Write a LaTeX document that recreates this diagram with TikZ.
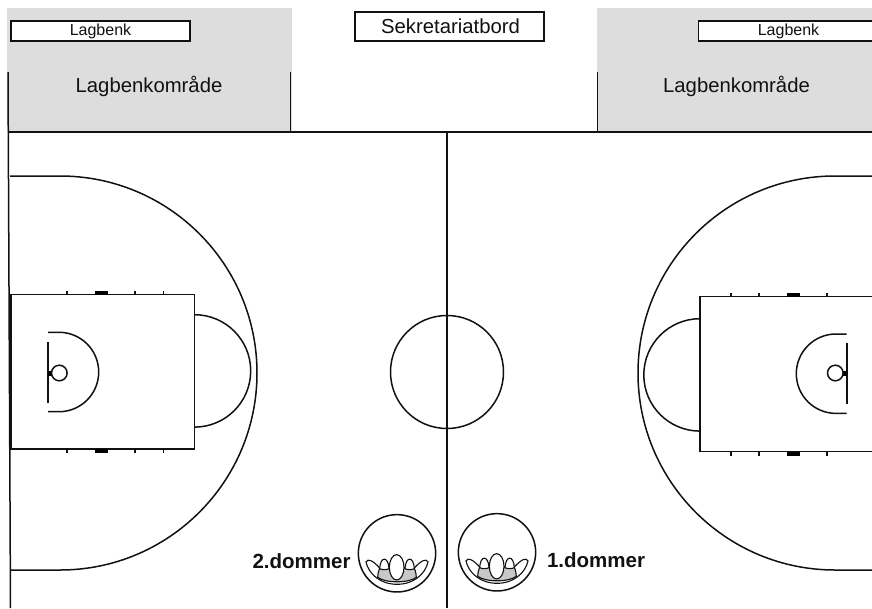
\documentclass[tikz,border=0pt]{standalone}
\usepackage{fontspec}
\setmainfont{Liberation Sans}
\definecolor{zone}{HTML}{DDDDDD}
\definecolor{body}{HTML}{C8C8C8}
\definecolor{ink}{HTML}{111111}
\tikzset{
  ln/.style={draw=ink,line width=1.5pt},
  thick line/.style={draw=ink,line width=1.7pt},
  fig line/.style={draw=ink,line width=1.1pt},
  benchbox/.style={draw=ink,line width=1.5pt,fill=white,inner sep=0pt},
  benchtext/.style={font=\fontsize{16}{16}\selectfont,text=ink,inner sep=0pt},
  zonetext/.style={font=\fontsize{20.3}{20.3}\selectfont,text=ink,inner sep=0pt},
  reftext/.style={font=\fontsize{20.5}{20.5}\bfseries\selectfont,text=ink,inner sep=0pt},
  mark block/.style={fill=black,draw=none}
}
\newcommand{\refereefig}[2]{%
  \begin{scope}[shift={(#1,#2)},x=0.3333pt,y=-0.3333pt]
    \draw[ln,fill=white] (0,0) circle[radius=116];
    \draw[fig line,fill=white]
      (-93,26) .. controls (-88,14) and (-72,22) .. (-52,44)
      -- (52,44)
      .. controls (72,22) and (88,14) .. (93,26)
      .. controls (85,62) and (50,93) .. (0,93)
      .. controls (-50,93) and (-85,62) .. (-93,26) -- cycle;
    \draw[fig line,fill=body]
      (-52,44) .. controls (-56,54) and (-58,64) .. (-58,72)
      .. controls (-35,90) and (35,90) .. (58,72)
      .. controls (58,64) and (56,54) .. (52,44) -- cycle;
    \draw[fig line,fill=white] (-52,46) .. controls (-50,8) and (-26,8) .. (-24,46) .. controls (-30,50) and (-46,50) .. (-52,46) -- cycle;
    \draw[fig line,fill=white] (24,46) .. controls (26,8) and (50,8) .. (52,46) .. controls (46,50) and (30,50) .. (24,46) -- cycle;
    \draw[fig line,fill=white] (-1,42) ellipse[x radius=22,y radius=38];
  \end{scope}}
\begin{document}
\begin{tikzpicture}[x=1pt,y=-1pt]
\useasboundingbox[fill=white] (0,0) rectangle (872,608);
% zones
\fill[zone] (7,8) rectangle (292,132);
\fill[zone] (597,8) rectangle (872,132);
% court lines
\draw[ln] (8,72) -- (10.5,608);
\draw[ln] (290.5,72) -- (290.5,132);
\draw[ln] (597.5,72) -- (597.5,132);
\draw[ln] (8,132) -- (872,132);
\draw[ln] (447,132) -- (447,608);
\node[benchbox,minimum width=179pt,minimum height=20pt] (benchL) at (100.5,31) {};
\node[benchtext] (benchLt) at (100.5,31) {Lagbenk};
\fill[white] (698.5,21) rectangle (872,41);
\draw[ln] (872,21) -- (698.5,21) -- (698.5,41) -- (872,41);
\node[benchtext] (benchRt) at (788.5,31) {Lagbenk};
\node[benchbox,minimum width=189pt,minimum height=29pt] (sekr) at (449.5,26.5) {};
\node[zonetext] (sekrt) at (450.5,26) {Sekretariatbord};
\node[zonetext] (zoneL) at (149,86) {Lagbenkområde};
\node[zonetext] (zoneR) at (736.5,86) {Lagbenkområde};
% three-point
\draw[ln] (10,176) -- (60,176) arc[start angle=-90,end angle=90,radius=197] -- (10,570);
\draw[ln] (872,176) -- (835,176) arc[start angle=-90,end angle=-270,radius=197] -- (872,570);
% centre
\draw[ln] (447,372) circle[radius=56.5];
% left key
\draw[thick line] (11,294.5) rectangle (194.5,449);
\draw[ln] (194.5,314.7) arc[start angle=-90,end angle=90,radius=56.2];
\draw[ln] (48,332.3) -- (59,332.3) arc[start angle=-90,end angle=90,radius=39.7] -- (48,411.7);
\draw[thick line] (48,342) -- (48,403);
\fill[black] (48,370.5) rectangle (52,375.5);
\draw[ln] (59.3,373) circle[radius=7.8];
\foreach \x in {67,135,163.7}{\draw[ln] (\x,291) -- (\x,294.5);\draw[ln] (\x,449) -- (\x,453);}
\fill[mark block] (95,291) rectangle (108,295);
\fill[mark block] (95,449) rectangle (108,453);
% right key
\draw[thick line] (872,296.5) -- (700,296.5) -- (700,451.5) -- (872,451.5);
\draw[ln] (700,318.7) arc[start angle=-90,end angle=-270,radius=56.2];
\draw[ln] (846.7,334) -- (836,334) arc[start angle=-90,end angle=-270,radius=39.7] -- (846.7,413.4);
\draw[thick line] (846.7,343) -- (846.7,404);
\fill[black] (843,370.5) rectangle (847,375.5);
\draw[ln] (835.3,373) circle[radius=7.8];
\foreach \x in {731,759,827}{\draw[ln] (\x,293) -- (\x,296.5);\draw[ln] (\x,451.5) -- (\x,455.5);}
\fill[mark block] (787,293) rectangle (800,297);
\fill[mark block] (787,451.5) rectangle (800,455.5);
% referees
\refereefig{397}{553.3}
\refereefig{497}{552.3}
\node[reftext] (ref2) at (301.5,561) {2.dommer};
\node[reftext] (ref1) at (596,560.5) {1.dommer};
\end{tikzpicture}
\end{document}
